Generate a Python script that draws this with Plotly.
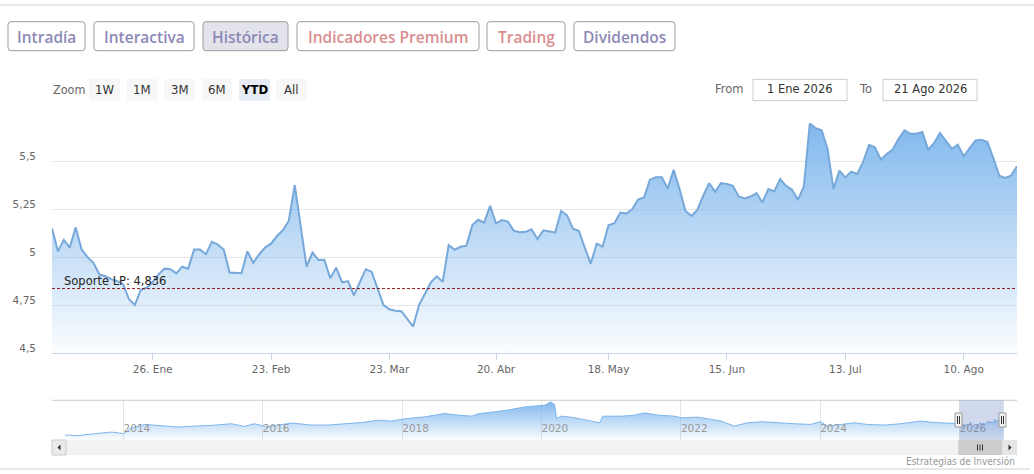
import pandas as pd
import plotly.graph_objects as go

# ---- data -----------------------------------------------------------------
# daily closes, YTD 2026 (one value per trading day)
HOLIDAYS = ["2026-04-03", "2026-04-06", "2026-05-01"]
prices = [
    5.15, 5.03, 5.09, 5.05, 5.155, 5.04, 5.00, 4.97, 4.91, 4.90,
    4.885, 4.875, 4.86, 4.78, 4.75, 4.83, 4.84, 4.87, 4.91, 4.94,
    4.937, 4.915, 4.95, 4.94, 5.04, 5.04, 5.015, 5.08, 5.065, 5.04,
    4.92, 4.918, 4.916, 5.03, 4.97, 5.015, 5.05, 5.07, 5.11, 5.14,
    5.19, 5.376, 5.16, 4.95, 5.024, 4.985, 4.986, 4.89, 4.945, 4.868,
    4.875, 4.80, 4.87, 4.937, 4.923, 4.84, 4.75, 4.728, 4.72, 4.718,
    4.676, 4.638, 4.75, 4.807, 4.868, 4.90, 4.871, 5.063, 5.038, 5.054,
    5.06, 5.167, 5.195, 5.18, 5.268, 5.176, 5.193, 5.185, 5.138, 5.13,
    5.132, 5.145, 5.094, 5.14, 5.133, 5.128, 5.241, 5.218, 5.149, 5.136,
    5.049, 4.965, 5.07, 5.054, 5.166, 5.177, 5.232, 5.227, 5.25, 5.30,
    5.311, 5.404, 5.416, 5.416, 5.358, 5.456, 5.355, 5.241, 5.215, 5.246,
    5.32, 5.386, 5.341, 5.386, 5.381, 5.372, 5.316, 5.306, 5.316, 5.334,
    5.285, 5.355, 5.343, 5.407, 5.372, 5.351, 5.299, 5.369, 5.696, 5.673,
    5.661, 5.565, 5.355, 5.451, 5.416, 5.446, 5.434, 5.495, 5.586, 5.573,
    5.509, 5.538, 5.561, 5.617, 5.661, 5.643, 5.643, 5.652, 5.561, 5.596,
    5.647, 5.603, 5.565, 5.586, 5.526, 5.568, 5.608, 5.612, 5.60, 5.516,
    5.425, 5.413, 5.425, 5.474,
]
trade_days = pd.bdate_range("2026-01-01", "2026-08-21").drop(pd.to_datetime(HOLIDAYS))
assert len(trade_days) == len(prices)

SUPPORT = 4.836

# long history shown in the navigator (sampled from the mini chart)
hist_dates = [
    "2013-03-01", "2013-05-08", "2013-08-08", "2013-10-30", "2014-01-02",
    "2014-02-15", "2014-04-22", "2014-07-01", "2014-10-15", "2015-01-12",
    "2015-04-08", "2015-07-20", "2015-09-27", "2015-11-17", "2016-01-22",
    "2016-06-02", "2016-09-12", "2016-12-08", "2017-03-08", "2017-06-03",
    "2017-08-29", "2017-11-06", "2018-01-15", "2018-05-01", "2018-08-11",
    "2018-10-19", "2019-01-02", "2019-02-03", "2019-05-01", "2019-07-27",
    "2019-10-05", "2019-11-25", "2020-01-20", "2020-02-17", "2020-03-10",
    "2020-03-20", "2020-04-15", "2020-06-05", "2020-08-14", "2020-11-02",
    "2020-11-17", "2021-02-24", "2021-05-05", "2021-06-25", "2021-09-02",
    "2021-11-29", "2022-01-03", "2022-03-30", "2022-06-10", "2022-07-31",
    "2022-10-08", "2022-12-16", "2023-02-28", "2023-05-08", "2023-08-18",
    "2023-11-13", "2024-01-02", "2024-02-10", "2024-04-19", "2024-06-28",
    "2024-09-05", "2024-12-02", "2025-02-28", "2025-06-10", "2025-08-18",
    "2025-11-14",
]
hist_values = [
    3.73, 3.65, 3.90, 4.10, 3.90, 4.65, 5.06, 4.94, 4.73, 4.85,
    4.94, 5.15, 4.81, 5.15, 4.77, 5.23, 4.98, 4.98, 5.15, 5.30,
    5.60, 5.48, 5.77, 6.02, 6.44, 6.23, 6.10, 6.40, 6.65, 6.94,
    7.27, 7.35, 7.48, 7.90, 7.56, 5.81, 6.10, 5.98, 5.69, 5.27,
    6.10, 6.10, 6.23, 6.52, 6.23, 6.10, 5.90, 5.98, 5.69, 5.48,
    4.85, 5.27, 5.40, 5.27, 5.15, 5.06, 5.40, 4.85, 5.06, 5.27,
    5.06, 4.98, 5.15, 5.48, 5.31, 5.23,
]

x_tick_dates = ["2026-01-26", "2026-02-23", "2026-03-23", "2026-04-20",
                "2026-05-18", "2026-06-15", "2026-07-13", "2026-08-10"]
x_tick_text = ["26. Ene", "23. Feb", "23. Mar", "20. Abr",
               "18. May", "15. Jun", "13. Jul", "10. Ago"]
y_tick_vals = [4.5, 4.75, 5, 5.25, 5.5, 5.75]
y_tick_text = ["4,5", "4,75", "5", "5,25", "5,5", ""]
year_ticks = ["2014-01-01", "2016-01-01", "2018-01-01", "2020-01-01",
              "2022-01-01", "2024-01-01", "2026-01-01"]
year_text = ["2014", "2016", "2018", "2020", "2022", "2024", "2026"]

tabs = ["Intradía", "Interactiva", "Histórica", "Indicadores Premium", "Trading", "Dividendos"]
zoom_buttons = ["1W", "1M", "3M", "6M", "YTD", "All"]

# ---- page geometry (pixels) -------------------------------------------------
W, H = 1034, 474
PLOT_L, PLOT_R = 52, 1017
MAIN_T, MAIN_B = 113.3, 353
NAV_T, NAV_B = 400.3, 440

PURPLE = "#8d89b6"
PINK = "#d98e8e"
TAB_BOXES = [(8, 85), (94, 194), (203, 288), (297, 479), (487, 565), (574, 675)]
TAB_COLORS = [PURPLE, PURPLE, PURPLE, PINK, PINK, PURPLE]
ZOOM_BOXES = [(89, 120), (127, 157), (164, 195), (202, 232), (239, 270), (276, 307)]

LINE_BLUE = "#76a8da"
GRAD = [[0, "rgba(124,181,236,0.03)"], [1, "rgba(124,181,236,1)"]]


def px(x):
    return x / W


def py(y):
    return 1 - y / H


def round_rect(x0, y0, x1, y1, r=3):
    return (
        f"M {px(x0 + r)},{py(y0)} L {px(x1 - r)},{py(y0)} "
        f"Q {px(x1)},{py(y0)} {px(x1)},{py(y0 + r)} L {px(x1)},{py(y1 - r)} "
        f"Q {px(x1)},{py(y1)} {px(x1 - r)},{py(y1)} L {px(x0 + r)},{py(y1)} "
        f"Q {px(x0)},{py(y1)} {px(x0)},{py(y1 - r)} L {px(x0)},{py(y0 + r)} "
        f"Q {px(x0)},{py(y0)} {px(x0 + r)},{py(y0)} Z"
    )


def rect(x0, y0, x1, y1, fill, line=None, width=1):
    return dict(type="rect", xref="paper", yref="paper",
                x0=px(x0), x1=px(x1), y0=py(y1), y1=py(y0),
                fillcolor=fill, line=dict(color=line or fill, width=width if line else 0),
                layer="above")


def hline(x0, x1, y, color, width=1):
    return dict(type="line", xref="paper", yref="paper", x0=px(x0), x1=px(x1),
                y0=py(y), y1=py(y), line=dict(color=color, width=width), layer="above")


def vline(x, y0, y1, color, width=1):
    return dict(type="line", xref="paper", yref="paper", x0=px(x), x1=px(x),
                y0=py(y0), y1=py(y1), line=dict(color=color, width=width), layer="above")


def label(text, x, y, size, color, family, xanchor="center", weight="normal"):
    return dict(text=text, xref="paper", yref="paper", x=px(x), y=py(y),
                xanchor=xanchor, yanchor="middle", showarrow=False,
                font=dict(size=size, color=color, family=family, weight=weight))


SANS = "DejaVu Sans, Verdana, sans-serif"
NARROW = "Liberation Sans Narrow, DejaVu Sans Condensed, Roboto, sans-serif"
TAB_FONT = "Open Sans, Lato, sans-serif"

# ---- figure -----------------------------------------------------------------
fig = go.Figure()

fig.add_trace(go.Scatter(
    x=trade_days, y=prices, mode="lines", fill="tozeroy",
    line=dict(color=LINE_BLUE, width=2),
    fillgradient=dict(type="vertical", colorscale=GRAD, start=4.5, stop=5.75),
    xaxis="x", yaxis="y", hoverinfo="x+y",
))

nav_x = list(pd.to_datetime(hist_dates)) + list(trade_days)
nav_y = hist_values + prices
fig.add_trace(go.Scatter(
    x=nav_x, y=nav_y, mode="lines", fill="tozeroy",
    line=dict(color="#7cb5ec", width=1),
    fillgradient=dict(type="vertical", colorscale=GRAD, start=3.1, stop=8.1),
    xaxis="x2", yaxis="y2", hoverinfo="skip",
))

shapes = []
annotations = []

# page separators
shapes.append(hline(0, W, 5, "#d6d6d6"))
shapes.append(hline(0, 1030, 469, "#cfcfcf"))

# tab buttons
for name, (x0, x1), col in zip(tabs, TAB_BOXES, TAB_COLORS):
    fill = "#e3e3ec" if name == "Histórica" else "white"
    shapes.append(dict(type="path", xref="paper", yref="paper",
                       path=round_rect(x0, 21.7, x1, 50.7), fillcolor=fill,
                       line=dict(color="#9c9c9c", width=1), layer="above"))
    annotations.append(label(name, (x0 + x1) / 2, 36.5, 15.5, col, TAB_FONT, weight=600))

# range selector
annotations.append(label("Zoom", 69, 89.5, 12.5, "#666666", NARROW))
for name, (x0, x1) in zip(zoom_buttons, ZOOM_BOXES):
    selected = name == "YTD"
    shapes.append(rect(x0, 79, x1, 100.7, "#e6ebf5" if selected else "#f7f7f7"))
    annotations.append(label(name, (x0 + x1) / 2, 89.5, 13, "#000000" if selected else "#333333",
                             NARROW, weight="bold" if selected else "normal"))

# date inputs
annotations.append(label("From", 746, 89.5, 11.5, "#666666", SANS, xanchor="right"))
shapes.append(rect(753, 79.3, 847, 100.7, "white", "#cccccc"))
annotations.append(label("1 Ene 2026", 800, 89.5, 11.5, "#333333", SANS))
annotations.append(label("To", 874, 89.5, 11.5, "#666666", SANS, xanchor="right"))
shapes.append(rect(883, 79.3, 977, 100.7, "white", "#cccccc"))
annotations.append(label("21 Ago 2026", 930, 89.5, 11.5, "#333333", SANS))

# support level
shapes.append(dict(type="line", xref="x domain", yref="y", x0=0, x1=1,
                   y0=SUPPORT, y1=SUPPORT, layer="above",
                   line=dict(color="#8b1a1a", width=1, dash="3px,2px")))
annotations.append(dict(text=f"Soporte LP: {SUPPORT:.3f}".replace(".", ","),
                        xref="paper", yref="y", x=px(62), y=SUPPORT,
                        xanchor="left", yanchor="bottom", yshift=-1, showarrow=False,
                        font=dict(size=11.5, color="#222222", family=SANS)))

# navigator: outline, mask, handles
shapes.append(hline(PLOT_L, PLOT_R, NAV_T, "#cccccc"))
shapes.append(dict(type="rect", xref="x2", yref="y2 domain",
                   x0=trade_days[0], x1=trade_days[-1], y0=0, y1=1,
                   fillcolor="rgba(102,133,194,0.3)", line=dict(width=0), layer="above"))
for hx in (958.5, 1002.5):
    shapes.append(rect(hx - 3.5, 413, hx + 3.5, 427, "#f2f2f2", "#999999"))
    shapes.append(vline(hx - 1, 416, 424, "#333333"))
    shapes.append(vline(hx + 1, 416, 424, "#333333"))

# scrollbar
shapes.append(rect(PLOT_L, NAV_B, PLOT_R, 455, "#f2f2f2"))
shapes.append(rect(958.3, NAV_B, 1002.3, 455, "#cccccc"))
for gx in (977.5, 980, 982.5):
    shapes.append(vline(gx, 444.5, 450.5, "#333333"))
shapes.append(rect(PLOT_L, NAV_B, 66, 455, "#ebebeb", "#cccccc"))
shapes.append(rect(1002.3, NAV_B, PLOT_R, 455, "#e6e6e6"))
shapes.append(dict(type="path", xref="paper", yref="paper", fillcolor="#333333",
                   line=dict(width=0), layer="above",
                   path=f"M {px(60.5)},{py(444.5)} L {px(57.5)},{py(447.5)} L {px(60.5)},{py(450.5)} Z"))
shapes.append(dict(type="path", xref="paper", yref="paper", fillcolor="#333333",
                   line=dict(width=0), layer="above",
                   path=f"M {px(1008.5)},{py(444.5)} L {px(1011.5)},{py(447.5)} L {px(1008.5)},{py(450.5)} Z"))

annotations.append(label("Estrategias de Inversión", 1017, 461.5, 10, "#999999", NARROW, xanchor="right"))

fig.update_layout(
    width=W, height=H,
    margin=dict(l=0, r=0, t=0, b=0),
    paper_bgcolor="white", plot_bgcolor="white",
    showlegend=False, separators=",.",
    shapes=shapes, annotations=annotations,
    xaxis=dict(
        domain=[px(PLOT_L), px(PLOT_R)], anchor="y", type="date",
        range=[trade_days[0], trade_days[-1]],
        rangebreaks=[dict(bounds=["sat", "mon"]), dict(values=HOLIDAYS)],
        tickvals=x_tick_dates, ticktext=x_tick_text,
        ticks="outside", ticklen=6, tickcolor="#ccd6eb",
        showline=True, linecolor="#ccd6eb", showgrid=False, zeroline=False,
        tickfont=dict(size=10.5, color="#666666", family=SANS),
    ),
    yaxis=dict(
        domain=[py(MAIN_B), py(MAIN_T)], anchor="x",
        range=[4.5, 5.75], tickvals=y_tick_vals, ticktext=y_tick_text,
        gridcolor="#e6e6e6", zeroline=False, showline=False, ticks="",
        ticklabelstandoff=15, ticklabelshift=-5,
        tickfont=dict(size=10.5, color="#666666", family=SANS),
    ),
    xaxis2=dict(
        domain=[px(PLOT_L), px(PLOT_R)], anchor="y2", type="date",
        range=["2012-12-22", "2026-10-29"],
        tickvals=year_ticks, ticktext=year_text, ticklabelposition="inside right",
        showgrid=True, gridcolor="#e6e6e6", showline=False, zeroline=False, ticks="",
        tickfont=dict(size=10.5, color="#999999", family=SANS),
    ),
    yaxis2=dict(
        domain=[py(NAV_B), py(NAV_T)], anchor="x2", range=[3.1, 8.1],
        showgrid=False, showticklabels=False, zeroline=False, showline=False,
    ),
)

# the page is exactly the window size, so drop the browser's default body margin
fig.write_html("out.html", config={"displayModeBar": False},
               post_script="document.body.style.margin='0px';")
